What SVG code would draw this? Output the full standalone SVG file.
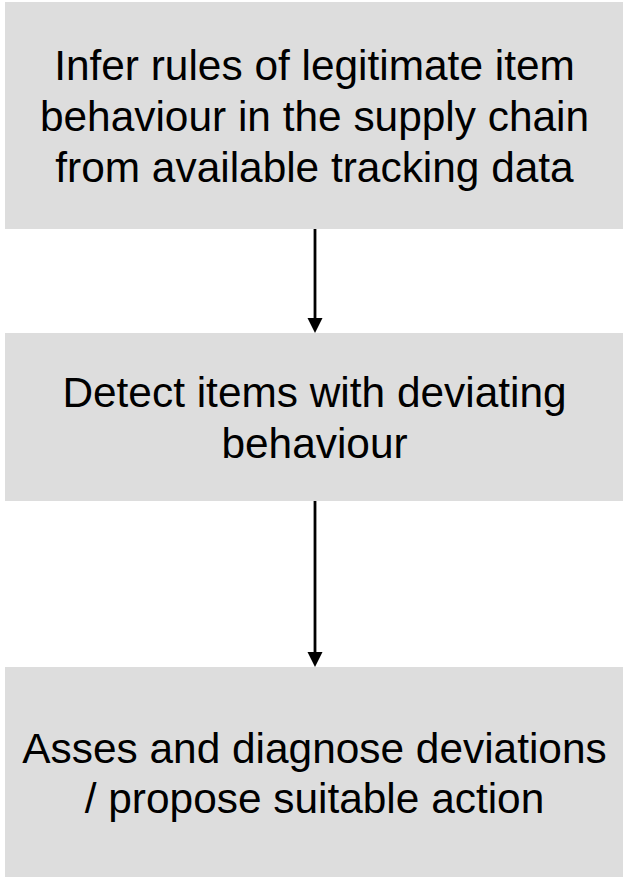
<svg xmlns="http://www.w3.org/2000/svg" width="623" height="877" viewBox="0 0 623 877">
<style>
.box{fill:#dddddd;}
.t{font-family:"Liberation Sans",Arial,sans-serif;font-size:42.4px;fill:#000;text-anchor:middle;}
.c{stroke:#000;stroke-width:2.8;fill:none;}
.h{fill:#000;}
</style>
<rect width="623" height="877" fill="#ffffff"/>
<g id="node1">
<rect class="box" x="5" y="2" width="618" height="227"/>
<text class="t" x="314.5" y="80">Infer rules of legitimate item</text>
<text class="t" x="314.5" y="131">behaviour in the supply chain</text>
<text class="t" x="314.5" y="182">from available tracking data</text>
</g>
<g id="node2">
<rect class="box" x="5" y="333" width="618" height="168"/>
<text class="t" x="314.5" y="407">Detect items with deviating</text>
<text class="t" x="314.5" y="458">behaviour</text>
</g>
<g id="node3">
<rect class="box" x="5" y="667" width="618" height="210"/>
<text class="t" x="314.5" y="763">Asses and diagnose deviations</text>
<text class="t" x="314.5" y="813">/ propose suitable action</text>
</g>
<g id="connectors">
<line class="c" x1="315" y1="229" x2="315" y2="320"/>
<polygon class="h" points="307.5,318 322.5,318 315,333"/>
<line class="c" x1="315" y1="501" x2="315" y2="654"/>
<polygon class="h" points="307.5,652 322.5,652 315,667"/>
</g>
</svg>
